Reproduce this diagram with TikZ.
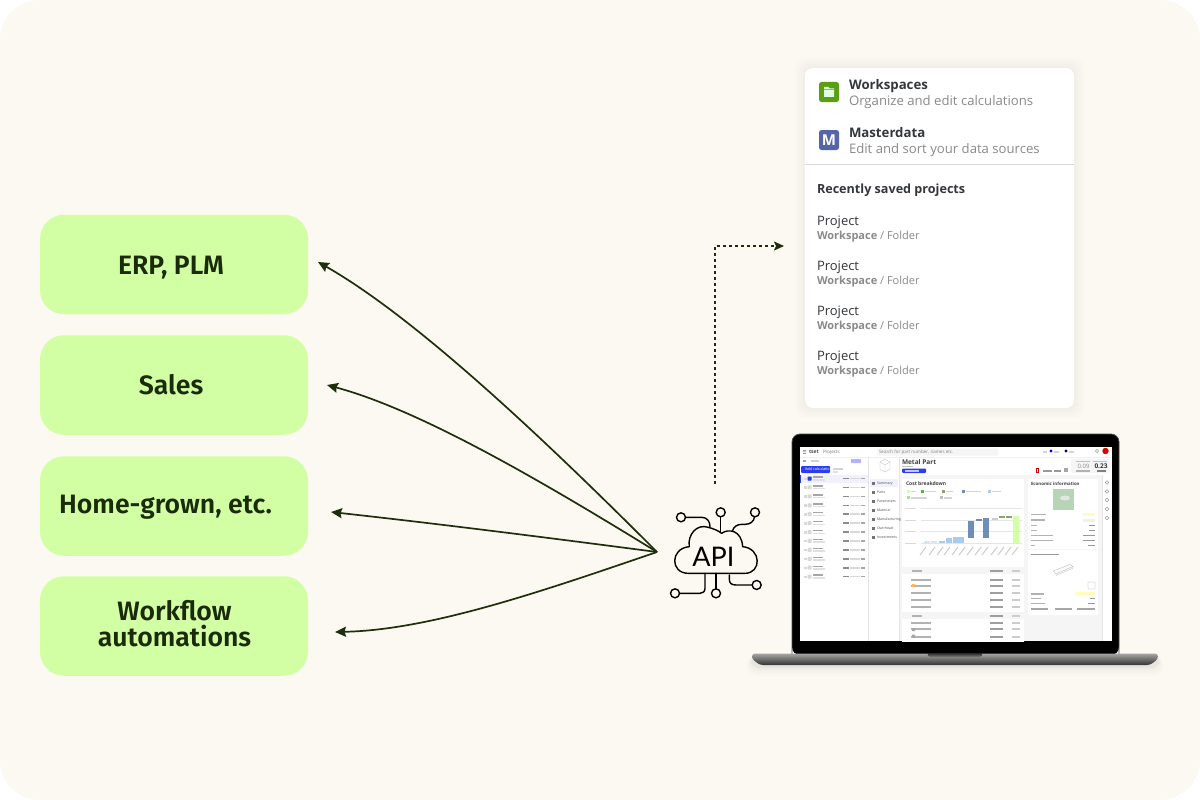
\documentclass[tikz,border=0pt]{standalone}
\usepackage{fontspec}
\setmainfont{Open Sans}
\newfontfamily\labelfont{Fira Sans SemiBold}
\newfontfamily\apifont{Lato}
\usetikzlibrary{arrows.meta,calc}
\definecolor{bgc}{HTML}{FCF9F2}
\definecolor{limec}{HTML}{D2FFA3}
\definecolor{darkg}{HTML}{1F2E0C}
\definecolor{inkc}{HTML}{1A2B0A}
\definecolor{titlec}{HTML}{33363B}
\definecolor{subc}{HTML}{8A8A8A}
\definecolor{barb}{HTML}{6E8DB8}
\definecolor{barl}{HTML}{A9CBF2}
\definecolor{barg}{HTML}{8AA56A}
\definecolor{grayp}{HTML}{F5F5F6}
\definecolor{tc}{HTML}{D4D4D8}
\definecolor{blueb}{HTML}{2B3DF0}
\tikzset{
  x=1pt,y=-1pt,
  every node/.style={inner sep=0pt,outer sep=0pt},
  srcbox/.style={fill=limec,rounded corners=24pt,minimum width=268pt,minimum height=99.5pt},
  boxlabel/.style={anchor=base,font=\labelfont\fontsize{26.6}{27}\selectfont,text=inkc},
  link/.style={draw=darkg,line width=1.7pt,-{Stealth[length=11pt,width=10pt,inset=1.5pt]}},
  linkd/.style={draw=darkg,line width=1.6pt,dash pattern=on 3pt off 3pt,-{Stealth[length=10pt,width=9pt,inset=2pt]}},
  cardtitle/.style={anchor=base west,font=\fontsize{13.2}{14}\selectfont\bfseries,text=titlec},
  cardsub/.style={anchor=base west,font=\fontsize{13.15}{14}\selectfont,text=subc},
  projname/.style={anchor=base west,font=\fontsize{13}{14}\selectfont,text=titlec},
  projpath/.style={anchor=base west,font=\fontsize{11}{12}\selectfont,text=subc},
  tiny/.style={anchor=base west,font=\fontsize{4.5}{5}\selectfont,text=#1},
  tiny/.default=black!75,
  wire/.style={draw=black,line width=1.4pt,line cap=round,line join=round,fill=none},
  pin/.style={draw=black,line width=1.4pt,fill=none},
}
\newcommand{\tb}[4][tc]{\fill[#1] (#2,#3) rectangle ++(#4,1.5);}
\begin{document}
\begin{tikzpicture}
\useasboundingbox (0,0) rectangle (1200,800);
\fill[white] (0,0) rectangle (1200,800);
\fill[bgc,rounded corners=40pt] (0,0) rectangle (1200,800);

% source boxes
\node[srcbox] (erp) at (174,264.5) {};
\node[srcbox] (sales) at (174,385) {};
\node[srcbox] (home) at (174,506) {};
\node[srcbox] (flow) at (174,626) {};
\node[boxlabel] (erpt) at (171,274) {ERP, PLM};
\node[boxlabel] (salest) at (171,394) {Sales};
\node[boxlabel] (homet) at (165.5,513) {Home-grown, etc.};
\node[boxlabel] (flowta) at (174.5,620) {Workflow};
\node[boxlabel] (flowtb) at (174.5,646) {automations};

% connector ends
\coordinate (hub) at (657,552);
\coordinate (tipa) at (318,262);
\coordinate (tipb) at (327,385);
\coordinate (tipc) at (331,512);
\coordinate (tipd) at (335,632);
\coordinate (dotstart) at (715,484);
\coordinate (dotend) at (784,246);
\draw[link] (hub) .. controls (555,450) and (420,320) .. (tipa);
\draw[link] (hub) .. controls (540,480) and (420,410) .. (tipb);
\draw[link] (hub) .. controls (550,538) and (440,524) .. (tipc);
\draw[link] (hub) .. controls (540,592) and (430,630) .. (tipd);
\draw[linkd] (dotstart) |- (dotend);

% API icon
\begin{scope}[shift={(650,480)},x=.3333pt,y=-.3333pt]
\draw[wire] (115,280) .. controls (60,280) and (60,205) .. (118,200)
  .. controls (112,165) and (140,130) .. (175,142)
  .. controls (190,146) and (205,152) .. (215,160)
  .. controls (235,145) and (275,150) .. (278,200)
  .. controls (335,205) and (335,280) .. (285,280) -- cycle;
\node[font=\apifont\fontsize{27}{27}\selectfont] (apit) at (190,231) {API};
\foreach \n/\x/\y in {p1/93/112,p2/212/97,p3/315/97,p4/75/340,p5/198/340,p6/320/315}
  \node[pin,circle,minimum size=9pt] (\n) at (\x,\y) {};
\draw[wire] (p1) -- (155,112) .. controls (172,112) and (180,125) .. (180,140);
\draw[wire] (p2) -- (212,158);
\draw[wire] (p3) .. controls (312,125) and (300,133) .. (285,133) -- (275,133) .. controls (260,133) and (250,142) .. (248,152);
\draw[wire] (165,280) -- (165,325) .. controls (165,335) and (158,340) .. (150,340) -- (p4);
\draw[wire] (198,280) -- (p5);
\draw[wire] (238,285) -- (238,298) .. controls (238,310) and (245,315) .. (258,315) -- (p6);
\end{scope}

% card
\foreach \g/\o in {10/.006,8/.007,6/.008,4/.009,2/.01}
  \fill[black,opacity=\o,rounded corners=10pt] (805-\g,68-\g) rectangle (1074+\g,408+\g);
\node[fill=white,rounded corners=8pt,minimum width=269pt,minimum height=340pt] (card) at (939.5,238) {};
\node[fill={rgb,255:red,90;green,158;blue,18},rounded corners=2.5pt,minimum size=20pt] (wsicon) at (829,92) {};
\fill[white!88!green] (824,87) -- (828.5,87) -- (829.5,88.5) -- (834,88.5) -- (834,97) -- (824,97) -- cycle;
\fill[white!55!green!80!black] (824,89.5) rectangle (834,90.2);
\node[fill={rgb,255:red,85;green,102;blue,168},rounded corners=2.5pt,minimum size=20pt,text=white,font=\fontsize{15}{15}\selectfont\bfseries] (mdicon) at (829,140) {M};
\node[cardtitle] (t1) at (849,89) {Workspaces};
\node[cardsub] (s1) at (849,105) {Organize and edit calculations};
\node[cardtitle] (t2) at (849,137) {Masterdata};
\node[cardsub] (s2) at (849,153) {Edit and sort your data sources};
\draw[black!15,line width=1pt] (805,164.5) -- (1074,164.5);
\node[cardtitle,font=\fontsize{12.6}{14}\selectfont\bfseries] (rs) at (817,193) {Recently saved projects};
\foreach \i/\y in {a/225,b/270,c/315,d/360}{
  \node[projname] (pn\i) at (817,\y) {Project};
  \node[projpath] (pp\i) at (817,\y+14.5) {\textbf{Workspace} / Folder};
}

% laptop
\foreach \g/\o in {10/.01,7/.015,4/.02,2/.03}
  \fill[black,opacity=\o,rounded corners=8pt] (752-\g/2,656) rectangle (1158+\g/2,666+\g);
\fill[black,rounded corners=8pt] (792,434) -- (1119,434) -- (1119,655) -- (792,655) -- cycle;
\draw[black!70,line width=.8pt,rounded corners=8pt] (792,655) -- (792,434) -- (1119,434) -- (1119,655);
\shade[top color=black!35,bottom color=black!80,rounded corners=3pt] (752,653.5) -- (1158,653.5) -- (1158,659) -- (1150,665) -- (760,665) -- (752,659) -- cycle;
\shade[top color=black!85,bottom color=black!45,rounded corners=2pt] (927,653) -- (983,653) -- (981,657.5) -- (929,657.5) -- cycle;

% screen
\fill[white] (800,447) rectangle (1112,641);
\begin{scope}
\clip (800,447) rectangle (1112,641);
\fill[grayp] (899,475) rectangle (1102,641);
\fill[black!6] (800,457) rectangle (1112,457.4);
\fill[black!10] (868,457) rectangle (868.4,641);
\fill[black!10] (899,457) rectangle (899.4,641);
\fill[black!10] (1102,475) rectangle (1102.4,641);
% header
\fill[black!60] (803,450) rectangle (806,450.5) (803,451.5) rectangle (806,452) (803,453) rectangle (806,453.5);
\node[anchor=base west,font=\fontsize{5}{5}\selectfont\bfseries,text=black!70] (logo) at (809,453) {tset};
\node[tiny=black!55] (proj) at (823,453) {Projects};
\fill[grayp,rounded corners=1pt] (877,448.5) rectangle (998,455.5);
\node[tiny=black!50] (srch) at (879,453.3) {Search for part number, names etc.};
\fill[blue] (1051,451) circle (1.7);
\fill[blue!60!black] (1066,451) circle (1.7);
\tb{1043}{451}{4}\tb{1054}{451}{5}\tb{1069}{451}{5}
\fill[red!85!black] (1105.5,451) circle (3.2);
\draw[black!50,line width=.4pt] (1097,451) circle (1.7);
% left panel top
\tb[black!35]{803}{460}{3}\tb{811}{460}{8}
\fill[blue!30,rounded corners=.7pt] (851,459) rectangle (861,463);
\fill[blueb,rounded corners=1pt] (801,466) rectangle (830,473);
\node[anchor=base west,font=\fontsize{3.8}{4}\selectfont,text=white] (addc) at (805,470.8) {Add calculation};
\tb{833}{468}{10}\tb[black!12]{833}{471}{5}
\fill[blue!6] (800,474.5) rectangle (868,483);
\fill[blueb] (800,474.5) rectangle (801,483);
\foreach \i in {0,...,11}{
  \pgfmathsetmacro{\yy}{478.5+8.92*\i}
  \fill[black!15] (804,\yy-1) rectangle ++(2.5,2.5);
  \fill[black!15,rounded corners=.5pt] (807.5,\yy-2) rectangle ++(4,4);
  \tb[black!35]{813}{\yy-2.2}{10}
  \tb[black!12]{813}{\yy+.5}{12}
  \tb[black!45]{843}{\yy-.7}{6}
  \tb[black!15]{850}{\yy-.7}{10}
  \tb[black!35]{861}{\yy-.7}{4}
}
\fill[blueb,rounded corners=.5pt] (807.5,476.5) rectangle ++(4,4);
% sidebar
\fill[blue!6,rounded corners=1pt] (870,479) rectangle (898,487);
\foreach \lab/\y/\nm in {Summary/484.5/si1,Parts/493.5/si2,Parameters/502.5/si3,Material/511.5/si4,Manufacturing/520.5/si5,Overhead/529.5/si6,Investments/538.5/si7}{
  \fill[black!55] (872,\y-2.2) rectangle ++(2.5,2.5);
  \node[anchor=base west,font=\fontsize{3.5}{4}\selectfont,text=black!70] (\nm) at (877,\y) {\lab};
}
% part head
\draw[black!25,line width=.3pt] (885,459) -- (890,462) -- (890,469) -- (885,472) -- (880,469) -- (880,462) -- cycle;
\draw[black!25,line width=.3pt] (880,462) -- (885,465) -- (890,462) (885,465) -- (885,472);
\node[anchor=base west,font=\fontsize{6.5}{7}\selectfont\bfseries,text=black!75] (mp) at (902,464.5) {Metal Part};
\tb[black!25]{902}{465.5}{11}
\fill[blueb,rounded corners=1pt] (902,468.5) rectangle (926,473);
\tb[white!70!blueb]{905}{470}{14}
\draw[red!80!black,line width=.4pt] (1036,468.5) rectangle (1038.5,472);
\tb[black!40]{1043}{470}{9}\tb[black!40]{1054}{470}{7}
\fill[black!35] (1064,468) rectangle (1068,472);
\fill[grayp,rounded corners=1pt] (1071,458.5) rectangle (1109,473);
\node[font=\fontsize{6}{6}\selectfont,text=black!45] (v1) at (1083.5,466) {0.09};
\node[font=\fontsize{6.5}{6}\selectfont\bfseries,text=black!80] (v2) at (1101,466) {0.23};
\tb[green!50!black!35]{1076}{460.5}{14}\tb[green!50!black!35]{1093}{460.5}{14}
\tb[black!30]{1076}{470}{14}\tb[black!50]{1097}{470}{9}
% right icons
\foreach \y in {482.5,491.5,500,509,518}
  \draw[black!50,line width=.4pt] (1107,\y) circle (1.8);
% cost panel
\fill[white,rounded corners=1pt] (902,479) rectangle (1024,645);
\node[anchor=base west,font=\fontsize{5}{5}\selectfont\bfseries,text=black!75] (cb) at (906,485.5) {Cost breakdown};
\foreach \c/\x/\w in {limec/907/5,green!45!gray/921/11,barg/942/7,barb/962/15,barl/988/9}{
  \fill[\c] (\x,489.5) rectangle ++(3,3);
  \tb{\x+4}{490.5}{\w}
}
\fill[limec!70!gray] (907,496) rectangle ++(3,3); \tb{911}{497}{16}
\fill[black!25] (939.5,496) rectangle ++(3,3); \tb{944}{497}{8}
\foreach \y in {508,520,531,543}{\fill[black!10] (921,\y) rectangle (1022,\y+.3); \tb[black!15]{905}{\y-.5}{11}}
\foreach \x/\t/\b/\c in {
 924/541/543/barl!50,931/541/543/barl!50,
 939/541/543/barl,946/538/543/barl,953/537/543/barl,958/537/543/barl,
 968/521/538/barb,976/519/521/barb,983/518/538/barb,992/518/520/black!20,
 999/516/518/barg,1006/516/518/barg,1013/516/543/limec}{
  \fill[\c] (\x,\t) rectangle ++(5.5,\b-\t);
}
\foreach \x in {921,930,938,945,953,960,968,976,983,992,999,1006,1013}
  \draw[black!20,line width=1pt] (\x+5,547) -- (\x-1,555);
% rows
\foreach \y/\sh in {570/1,579/0,585/0,592/0,599/0,606/0,615/1,622/0,628/0,636/0}{
  \ifnum\sh=1 \fill[grayp] (902,\y-3) rectangle (1024,\y+4);\fi
  \tb[black!30]{\ifnum\sh=1 912\else 911\fi}{\y}{\ifnum\sh=1 10\else 20\fi}
  \tb[black!38]{990}{\y}{13}
  \tb[black!20]{1012}{\y}{8}
}
\fill[orange!60] (912,583.5) rectangle ++(3,3);
\fill[black!35] (912,628) rectangle ++(3,3) (912,634.5) rectangle ++(3,3);
% economic panel
\fill[white,rounded corners=1pt] (1028,479) rectangle (1098,615);
\node[anchor=base west,font=\fontsize{4.4}{5}\selectfont\bfseries,text=black!75] (ei) at (1031,485.5) {Economic information};
\fill[green!25!gray!45] (1053,489) rectangle (1074,510);
\fill[white!80!gray] (1065,498) ellipse (5 and 2.5);
\fill[yellow!25] (1083,512.5) rectangle (1095,516);
\fill[black!6] (1083,518.5) rectangle (1095,521.5);
\foreach \y/\a/\b in {513.5/15/0,519/14/0,524.5/6/6,529.5/6/6,534.5/22/12,539.5/22/12,544.5/4/7}{
  \tb[black!30]{1031}{\y}{\a}
  \ifnum\b>0 \tb[black!40]{\the\numexpr1095-\b\relax}{\y}{\b}\fi
}
\fill[grayp] (1028,549) rectangle (1098,550);
\tb[black!40]{1031}{553.5}{28}
\draw[black!30,line width=.3pt,fill=black!2] (1053,571) -- (1070,564.5) -- (1073,566.5) -- (1056,574) -- cycle;
\draw[black!30,line width=.3pt] (1056,574) -- (1056,575.5) -- (1073,568) -- (1073,566.5);
\draw[black!35,line width=.3pt,rounded corners=.5pt] (1088,582) rectangle (1095,589);
\fill[yellow!25] (1075,592) rectangle (1095,595);
\foreach \y/\a/\b in {593/13/0,597.5/10/5,602.5/14/7}{
  \tb[black!30]{1031}{\y}{\a}
  \ifnum\b>0 \tb[black!40]{\the\numexpr1095-\b\relax}{\y}{\b}\fi
}
\tb[black!35]{1031}{608}{17}\tb[black!35]{1055}{608}{17}\tb[black!35]{1077}{608}{18}
\end{scope}
\end{tikzpicture}
\end{document}
